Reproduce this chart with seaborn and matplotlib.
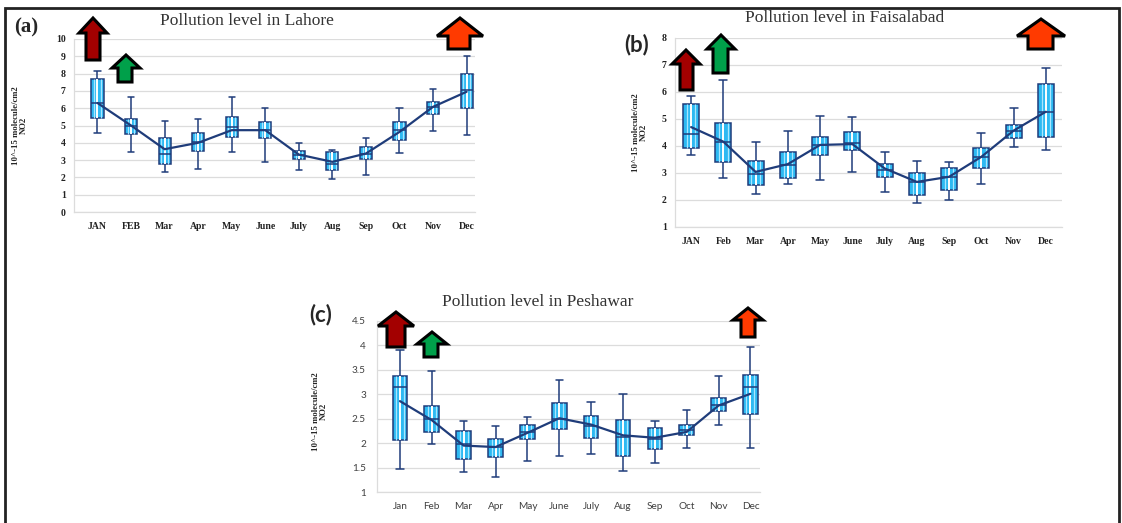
import numpy as np
import pandas as pd
import matplotlib
matplotlib.use("Agg")
import matplotlib.pyplot as plt
from matplotlib.patches import Polygon, Rectangle
import seaborn as sns

# ---------------- data ----------------
months_a = ["JAN", "FEB", "Mar", "Apr", "May", "June", "July", "Aug", "Sep", "Oct", "Nov", "Dec"]
months_b = ["JAN", "Feb", "Mar", "Apr", "May", "June", "July", "Aug", "Sep", "Oct", "Nov", "Dec"]
months_c = ["Jan", "Feb", "Mar", "Apr", "May", "June", "July", "Aug", "Sep", "Oct", "Nov", "Dec"]

# Lahore
lah_min = [4.58, 3.47, 2.32, 2.50, 3.44, 2.90, 2.41, 1.89, 2.16, 3.42, 4.69, 4.44]
lah_q1  = [5.46, 4.50, 2.76, 3.53, 4.34, 4.30, 3.09, 2.41, 3.05, 4.15, 5.69, 6.04]
lah_med = [6.31, 5.00, 3.38, 4.05, 4.92, 4.73, 3.32, 2.80, 3.38, 4.73, 6.08, 7.08]
lah_q3  = [7.68, 5.40, 4.25, 4.54, 5.50, 5.21, 3.53, 3.47, 3.73, 5.21, 6.37, 7.97]
lah_max = [8.15, 6.62, 5.27, 5.37, 6.66, 6.00, 3.96, 3.61, 4.30, 6.00, 7.10, 9.00]
lah_mean = [6.30, 5.00, 3.63, 4.00, 4.73, 4.73, 3.32, 2.90, 3.38, 4.63, 6.08, 6.95]

# Faisalabad
fai_min = [3.66, 2.80, 2.21, 2.61, 2.73, 3.04, 2.30, 1.89, 1.99, 2.59, 3.97, 3.85]
fai_q1  = [3.91, 3.42, 2.54, 2.80, 3.66, 3.85, 2.86, 2.20, 2.36, 3.20, 4.28, 4.35]
fai_med = [4.43, 4.16, 2.95, 3.29, 4.04, 4.10, 3.11, 2.67, 2.86, 3.60, 4.57, 5.27]
fai_q3  = [5.56, 4.87, 3.45, 3.78, 4.32, 4.53, 3.35, 3.00, 3.20, 3.91, 4.78, 6.30]
fai_max = [5.87, 6.45, 4.16, 4.56, 5.11, 5.09, 3.79, 3.45, 3.42, 4.47, 5.40, 6.89]
fai_mean = [4.70, 4.16, 3.04, 3.33, 4.04, 4.07, 3.17, 2.67, 2.86, 3.60, 4.57, 5.27]

# Peshawar
pes_min = [1.48, 1.98, 1.41, 1.31, 1.63, 1.73, 1.78, 1.43, 1.59, 1.91, 2.38, 1.91]
pes_q1  = [2.06, 2.23, 1.68, 1.72, 2.09, 2.28, 2.11, 1.74, 1.89, 2.16, 2.65, 2.60]
pes_med = [3.15, 2.50, 1.99, 1.92, 2.23, 2.50, 2.36, 2.13, 2.09, 2.26, 2.79, 3.15]
pes_q3  = [3.37, 2.77, 2.25, 2.08, 2.38, 2.83, 2.56, 2.47, 2.30, 2.38, 2.93, 3.39]
pes_max = [3.90, 3.48, 2.45, 2.36, 2.53, 3.29, 2.84, 3.00, 2.45, 2.67, 3.37, 3.97]
pes_mean = [2.86, 2.47, 1.95, 1.92, 2.21, 2.51, 2.38, 2.16, 2.11, 2.23, 2.77, 3.01]

titles = ["Pollution level in Lahore", "Pollution level in Faisalabad", "Pollution level in Peshawar"]
panel_tags = ["(a)", "(b)", "(c)"]
ylabel = "10^-15 molecule/cm2\nNO2"

# ---------------- style ----------------
sns.set_style("white")
SERIF = ["Liberation Serif", "DejaVu Serif"]
SANS = ["Lato", "DejaVu Sans"]
plt.rcParams["font.family"] = SERIF

W, H = 1122, 523
fig = plt.figure(figsize=(W / 100, H / 100), dpi=100)

def fx(x):
    return x / W

def fy(y):
    return 1 - y / H

def make_axes(left, right, top, bottom):
    return fig.add_axes([fx(left), fy(bottom), (right - left) / W, (bottom - top) / H])

CYAN = "#2DB9F2"
NAVY = "#1F3C7A"
GRID = "#DCDCDC"


def build_df(months, lo, q1, med, q3, hi):
    rows = []
    for m, a, b, c, d, e in zip(months, lo, q1, med, q3, hi):
        for v in (a, b, c, d, e):
            rows.append({"Month": m, "NO2": v})
    return pd.DataFrame(rows)


def draw_panel(ax, months, lo, q1, med, q3, hi, mean, width):
    df = build_df(months, lo, q1, med, q3, hi)
    sns.boxplot(data=df, x="Month", y="NO2", order=months, whis=np.inf,
                width=width, color=CYAN, saturation=1, linecolor=NAVY,
                linewidth=1.1, ax=ax,
                medianprops={"zorder": 3}, boxprops={"zorder": 1})
    pos = np.arange(len(months))
    # striped fill: white centre stripe and pale side stripes
    ax.vlines(pos, q1, q3, colors="white", linewidth=1.4, zorder=1.5)
    ax.vlines(pos - width * 0.27, q1, q3, colors="#A8E6FF", linewidth=0.9, zorder=1.5)
    ax.vlines(pos + width * 0.27, q1, q3, colors="#A8E6FF", linewidth=0.9, zorder=1.5)
    sns.pointplot(x=months, y=mean, order=months, color=NAVY, marker="",
                  linestyle="-", linewidth=1.6, errorbar=None, ax=ax)
    ax.set_xlabel("")
    ax.yaxis.grid(True, color=GRID, lw=0.9)
    ax.set_axisbelow(True)
    for s in ("top", "right"):
        ax.spines[s].set_visible(False)
    for s in ("left", "bottom"):
        ax.spines[s].set_color(GRID)
        ax.spines[s].set_linewidth(0.9)
    ax.tick_params(length=0)


# Panel (a)
ax_a = make_axes(74, 475, 39, 212)
draw_panel(ax_a, months_a, lah_min, lah_q1, lah_med, lah_q3, lah_max, lah_mean, 0.36)
ax_a.set_ylim(0, 10)
ax_a.set_yticks(range(0, 11))
ax_a.set_xlim(-0.7, 11.25)

# Panel (b)
ax_b = make_axes(675, 1062, 38, 227)
draw_panel(ax_b, months_b, fai_min, fai_q1, fai_med, fai_q3, fai_max, fai_mean, 0.5)
ax_b.set_ylim(1, 8)
ax_b.set_yticks(range(1, 9))
ax_b.set_xlim(-0.5, 11.5)

# Panel (c)
ax_c = make_axes(377, 760, 321, 492)
draw_panel(ax_c, months_c, pes_min, pes_q1, pes_med, pes_q3, pes_max, pes_mean, 0.46)
ax_c.set_ylim(1, 4.5)
cticks = [1, 1.5, 2, 2.5, 3, 3.5, 4, 4.5]
ax_c.set_yticks(cticks)
ax_c.set_yticklabels([("%g" % t) for t in cticks])
ax_c.set_xlim(-0.72, 11.3)

for ax in (ax_a, ax_b):
    for lab in ax.get_xticklabels() + ax.get_yticklabels():
        lab.set_fontfamily(SERIF)
        lab.set_fontweight("bold")
        lab.set_fontsize(7)
        lab.set_color("#222222")
    ax.tick_params(axis="x", pad=7)
    ax.tick_params(axis="y", pad=6)
    ax.set_ylabel(ylabel, fontsize=6.3, fontweight="bold", family=SERIF, linespacing=1.0)

for lab in ax_c.get_xticklabels() + ax_c.get_yticklabels():
    lab.set_fontfamily(SANS)
    lab.set_fontsize(7.2)
    lab.set_color("#404040")
ax_c.tick_params(axis="x", pad=7)
ax_c.tick_params(axis="y", pad=8)
ax_c.set_ylabel(ylabel, fontsize=6.3, fontweight="bold", family=SERIF, linespacing=1.0)

ax_a.yaxis.set_label_coords(-0.115, 0.5)
ax_b.yaxis.set_label_coords(-0.07, 0.5)
ax_c.yaxis.set_label_coords(-0.128, 0.47)

# titles and tags
fig.text(fx(247), fy(21), titles[0], ha="center", va="center", fontsize=12.5, family=SERIF, color="#333333")
fig.text(fx(845), fy(18), titles[1], ha="center", va="center", fontsize=12.5, family=SERIF, color="#333333")
fig.text(fx(538), fy(302), titles[2], ha="center", va="center", fontsize=12.5, family=SERIF, color="#333333")
fig.text(fx(26), fy(27), panel_tags[0], ha="center", va="center", fontsize=15, fontweight="bold", family=SERIF)
fig.text(fx(637), fy(45), panel_tags[1], ha="center", va="center", fontsize=16, fontweight="bold", family=SANS)
fig.text(fx(321), fy(315), panel_tags[2], ha="center", va="center", fontsize=16, fontweight="bold", family=SANS)


# block arrows (annotations)
def block_arrow(xl, xr, yt, yb, sl, sr, hh, color):
    cx = (xl + xr) / 2
    pts = [(xl, yt + hh), (cx, yt), (xr, yt + hh), (sr, yt + hh), (sr, yb), (sl, yb), (sl, yt + hh)]
    poly = Polygon([(fx(x), fy(y)) for x, y in pts], closed=True, transform=fig.transFigure,
                   facecolor=color, edgecolor="black", linewidth=2.2, joinstyle="miter")
    fig.add_artist(poly)

DRED = "#A30000"
GREEN = "#00A04A"
ORANGE = "#FF3A00"

block_arrow(79, 107, 18, 60, 86, 100, 15, DRED)
block_arrow(112, 140, 55, 82, 118, 132, 13, GREEN)
block_arrow(437, 483, 18, 49, 448, 470, 18, ORANGE)

block_arrow(672, 700, 50, 90, 680, 693, 14, DRED)
block_arrow(707, 735, 35, 73, 713, 728, 14, GREEN)
block_arrow(1017, 1065, 19, 49, 1028, 1053, 17, ORANGE)

block_arrow(378, 414, 312, 347, 387, 405, 14, DRED)
block_arrow(417, 447, 332, 357, 424, 438, 12, GREEN)
block_arrow(733, 763, 308, 337, 741, 755, 12, ORANGE)

# outer frame
fig.add_artist(Rectangle((fx(5), fy(530)), 1114 / W, 522 / H, transform=fig.transFigure,
                         fill=False, edgecolor="#222222", linewidth=2))

fig.savefig("out.png", dpi=100)
